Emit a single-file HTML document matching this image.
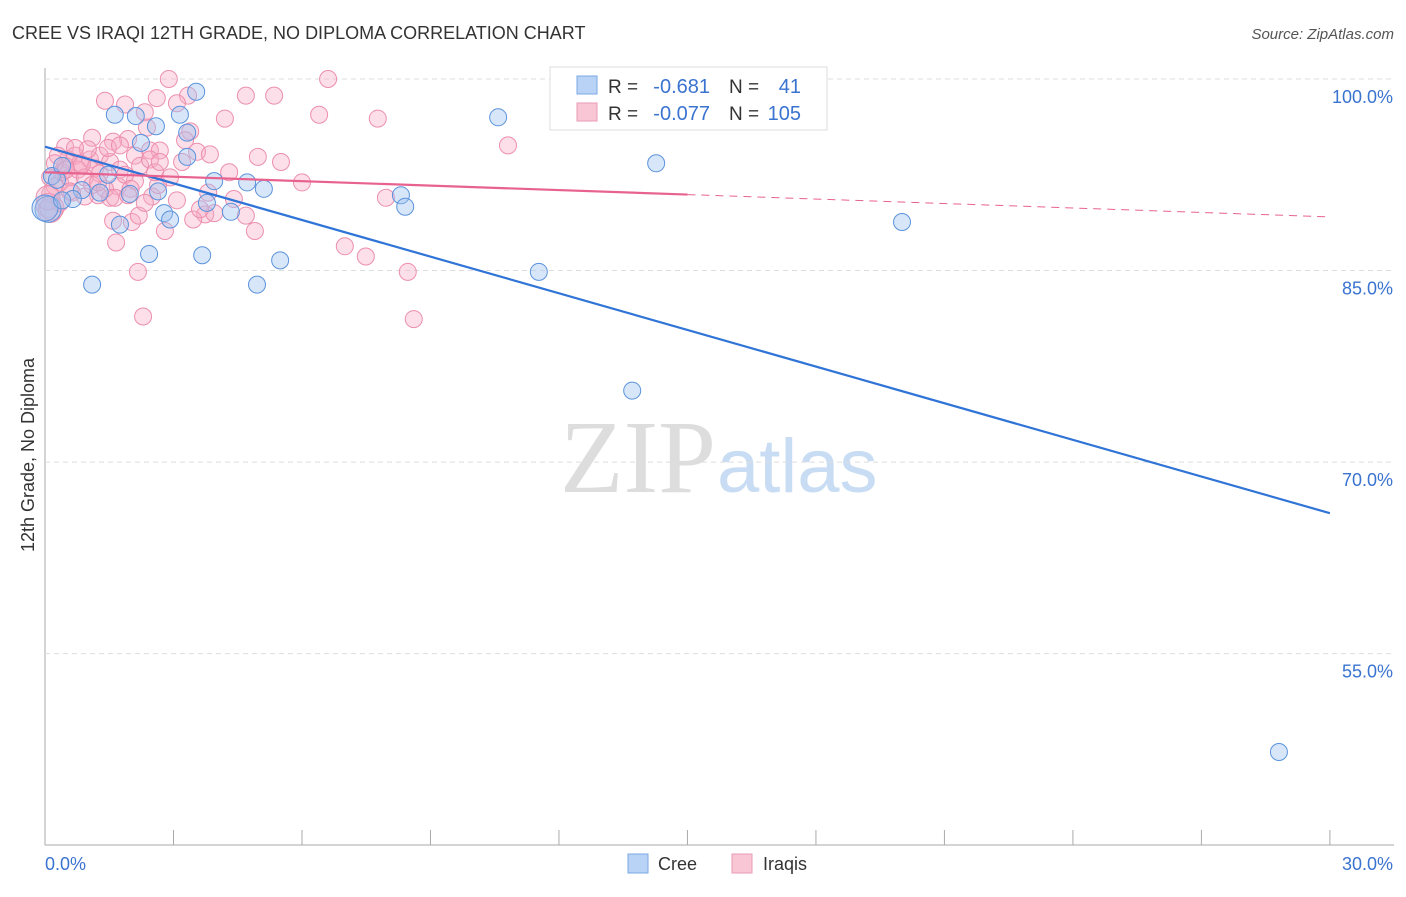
<!DOCTYPE html>
<html><head><meta charset="utf-8"><style>
body{margin:0;background:#fff;font-family:"Liberation Sans",sans-serif;}
</style></head><body>
<svg id="c" width="1406" height="892" xmlns="http://www.w3.org/2000/svg">
<text x="12" y="39" font-size="18" fill="#333">CREE VS IRAQI 12TH GRADE, NO DIPLOMA CORRELATION CHART</text>
<text x="1394" y="39" font-size="15" fill="#555" text-anchor="end" font-style="italic">Source: ZipAtlas.com</text>
<text x="716" y="492" font-size="104" fill="#ddd" text-anchor="end" font-family="Liberation Serif">ZIP</text>
<text x="717" y="492" font-size="76" fill="#c8dcf3">atlas</text>
<g id="grid"></g><g id="pts"></g><g id="lines"></g>
<text x="34" y="455" font-size="18" fill="#333" text-anchor="middle" transform="rotate(-90 34 455)">12th Grade, No Diploma</text>
<g>
<rect x="550" y="67" width="277" height="63" fill="#fff" stroke="#ddd"/>
<rect x="577" y="76" width="20" height="18" fill="#b8d3f5" stroke="#7aa8e6"/>
<rect x="577" y="103" width="20" height="18" fill="#f9c6d6" stroke="#eb9bb5"/>
<text x="608" y="93" font-size="19" fill="#333">R =</text>
<text x="710" y="93" font-size="20" fill="#3a73d0" text-anchor="end">-0.681</text>
<text x="729" y="93" font-size="19" fill="#333">N =</text>
<text x="801" y="93" font-size="20" fill="#3a73d0" text-anchor="end">41</text>
<text x="608" y="120" font-size="19" fill="#333">R =</text>
<text x="710" y="120" font-size="20" fill="#3a73d0" text-anchor="end">-0.077</text>
<text x="729" y="120" font-size="19" fill="#333">N =</text>
<text x="801" y="120" font-size="20" fill="#3a73d0" text-anchor="end">105</text>
</g>
<g>
<rect x="628" y="854" width="20" height="19" fill="#b8d3f5" stroke="#7aa8e6"/>
<text x="658" y="870" font-size="18" fill="#333">Cree</text>
<rect x="732" y="854" width="20" height="19" fill="#f9c6d6" stroke="#eb9bb5"/>
<text x="763" y="870" font-size="18" fill="#333">Iraqis</text>
</g>
</svg>
<script>
const yTicks=[100,85,70,55];
const xTickLabels=["0.0%","30.0%"];
const creeX=[3.53,1.63,2.12,3.15,2.59,3.32,2.24,3.32,0.16,0.40,1.47,0.86,1.28,1.98,0.65,2.64,3.95,4.72,5.11,3.78,4.34,2.78,2.92,1.75,8.31,8.41,10.58,14.27,20.01,2.43,3.67,5.49,11.53,1.10,4.95,13.71,28.81,0.07,0,0.40,0.28];
const creeY=[99.0,97.2,97.1,97.2,96.3,95.8,95.0,93.9,92.4,93.2,92.5,91.3,91.1,91.0,90.6,91.2,92.0,91.9,91.4,90.3,89.6,89.5,89.0,88.6,90.9,90.0,97.0,93.4,88.8,86.3,86.2,85.8,84.9,83.9,83.9,75.6,47.3,89.8,89.9,90.5,92.1];
const iraqX=[2.89,6.61,1.40,1.87,2.61,3.34,5.35,4.69,2.33,3.08,4.20,6.40,7.77,10.81,2.38,3.39,1.10,1.94,1.59,3.27,2.45,2.68,3.55,0.47,4.97,5.51,4.30,6.00,7.96,7.00,7.49,8.47,2.17,2.29,8.61,4.90,2.80,1.66,2.03,1.59,2.19,3.74,4.69,3.46,3.95,3.62,4.41,3.81,3.08,2.50,2.64,1.70,2.10,1.24,0.93,1.52,0.63,0.35,0.23,0.12,0.07,0.12,0.54,0.70,0.82,1.05,1.17,1.28,0.30,0.40,0.58,0.77,0.93,1.10,1.28,1.52,1.75,1.87,2.00,2.10,2.22,2.45,2.57,1.47,1.75,1.00,0.70,0.47,0.23,0.12,1.40,1.63,2.33,0.35,0.16,0.07,0.58,0.86,1.24,1.94,2.68,2.92,3.85,3.20,0.49];
const iraqY=[100,100,98.3,98.0,98.5,98.7,98.7,98.7,97.4,98.1,96.9,97.2,96.9,94.8,96.2,95.9,95.4,95.3,95.1,95.2,94.4,94.4,94.3,94.7,93.9,93.5,92.7,91.9,90.7,86.9,86.1,84.9,84.9,81.4,81.2,88.1,88.1,87.2,88.8,88.9,89.3,89.4,89.3,89.0,89.5,89.8,90.6,91.1,90.5,90.8,91.7,91.6,92.0,90.9,90.8,90.7,91.1,91.9,91.6,91.0,90.1,89.7,93.7,94.0,93.4,93.7,93.0,92.6,94.0,92.7,92.3,92.9,92.3,91.7,94.0,93.5,92.9,92.5,91.4,94.0,93.2,93.7,92.7,94.6,94.8,94.5,94.6,93.2,93.4,92.3,91.4,90.7,90.3,90.3,89.9,90.7,91.2,93.3,91.9,90.9,93.5,92.3,94.1,93.5,92.9];
const creeTrend=[94.7,66.0]; const iraqTrend=[92.7,89.2]; const iraqSolidEnd=15;
const X=v=>45+v*42.83, Y=v=>79+(100-v)*12.77;
const NS='http://www.w3.org/2000/svg';
function mk(t,a,p){const e=document.createElementNS(NS,t);for(const k in a)e.setAttribute(k,a[k]);document.getElementById(p).appendChild(e);return e;}
let a=mk('line',{x1:45,y1:68,x2:45,y2:845,stroke:'#aaa'},'grid');


a=mk('line',{x1:45,y1:845,x2:1394,y2:845,stroke:'#aaa'},'grid');


for(let i=0;i<=10;i++){const t=mk('line',{x1:X(i*3),y1:830,x2:X(i*3),y2:845,stroke:'#aaa'},'grid');

}
yTicks.forEach(v=>{const g=mk('line',{x1:45,y1:Y(v),x2:1394,y2:Y(v),stroke:'#ddd','stroke-dasharray':'5,4'},'grid');


const t=mk('text',{x:1393,y:Y(v)+24,'font-size':18,fill:'#3a73d0','text-anchor':'end'},'grid');t.textContent=v.toFixed(1)+'%';

});
[[0,45,'start'],[30,1393,'end']].forEach((d,i)=>{const t=mk('text',{x:d[1],y:870,'font-size':18,fill:'#3a73d0','text-anchor':d[2]},'grid');t.textContent=xTickLabels[i];

});
iraqX.forEach((x,i)=>{const c=mk('circle',{cx:X(x),cy:Y(iraqY[i]),r:(x<0.3&&iraqY[i]<91)?12:8.5,fill:'rgba(246,170,196,0.38)',stroke:'#ec8fae','stroke-width':1},'pts');

});
creeX.forEach((x,i)=>{const c=mk('circle',{cx:X(x),cy:Y(creeY[i]),r:(x<0.1)?13:8.5,fill:'rgba(160,196,240,0.42)',stroke:'#5b93dc','stroke-width':1},'pts');

});
let l=mk('line',{x1:X(0),y1:Y(creeTrend[0]),x2:X(30),y2:Y(creeTrend[1]),stroke:'#2f74d6','stroke-width':2.2},'lines');


const iy=x=>iraqTrend[0]+(iraqTrend[1]-iraqTrend[0])*x/30;
l=mk('line',{x1:X(0),y1:Y(iy(0)),x2:X(iraqSolidEnd),y2:Y(iy(iraqSolidEnd)),stroke:'#e8628f','stroke-width':2.2},'lines');


l=mk('line',{x1:X(iraqSolidEnd),y1:Y(iy(iraqSolidEnd)),x2:X(30),y2:Y(iy(30)),stroke:'#e8628f','stroke-width':1,'stroke-dasharray':'8,6'},'lines');


</script>
</body></html>
